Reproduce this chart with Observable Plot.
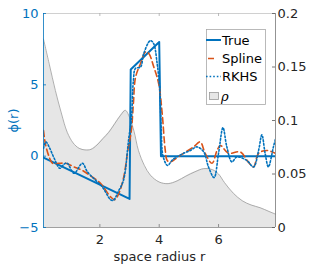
<!DOCTYPE html>
<html><head><meta charset="utf-8">
<script src="https://cdn.jsdelivr.net/npm/d3@7"></script>
<script src="https://cdn.jsdelivr.net/npm/@observablehq/plot@0.6"></script>
<style>
body{margin:0;background:#fff;}
#wrap{width:311px;height:264px;}
</style></head><body><div id="wrap"></div>
<script>
// ---- data ----
const trueR   = [0.1, 3.0, 3.04, 4.0, 4.06, 7.92];
const truePhi = [-0.1, -3.0, 6.08, 8.0, 0.0, 0.0];

const splineR   = [0.1, 0.17, 0.3, 0.4, 0.62, 0.85, 1.13, 1.41, 1.63, 2.02, 2.36, 2.5, 2.64, 2.8, 2.95, 3.06, 3.13, 3.2, 3.37, 3.54, 3.65, 3.81, 3.98, 4.1, 4.2, 4.27, 4.38, 4.6, 4.82, 5.16, 5.38, 5.55, 5.78, 5.95, 6.06, 6.34, 6.73, 7.0, 7.18, 7.35, 7.63, 7.92];
const splinePhi = [1.8, 0.8, -0.1, -0.5, -0.5, -0.5, -0.75, -1.0, -1.3, -1.9, -2.85, -3.05, -2.6, -1.5, 0.5, 1.8, 3.7, 5.5, 6.5, 7.3, 7.2, 6.3, 5.1, 3.0, 0.5, -0.3, -0.4, -0.1, 0.2, 0.65, 1.0, 0.2, -0.5, 0.4, 0.75, 0.2, 0.3, -0.4, -0.75, 0.2, 0.4, 0.2];

const rkhsR   = [0.1, 0.18, 0.3, 0.45, 0.65, 0.8, 0.9, 1.13, 1.41, 1.58, 1.86, 2.08, 2.36, 2.45, 2.64, 2.78, 2.86, 2.92, 2.98, 3.06, 3.13, 3.2, 3.37, 3.48, 3.7, 3.81, 3.93, 4.02, 4.07, 4.13, 4.28, 4.45, 4.6, 4.82, 5.05, 5.27, 5.5, 5.66, 5.85, 6.0, 6.15, 6.28, 6.45, 6.62, 6.95, 7.18, 7.35, 7.46, 7.57, 7.68, 7.85, 7.92];
const rkhsPhi = [0.55, 1.0, 0.6, -0.1, -0.85, -0.55, -0.5, -1.2, -0.5, -1.1, -1.7, -2.15, -3.05, -3.1, -2.4, -1.8, -1.0, 0.2, 1.35, 2.5, 5.3, 6.15, 6.25, 7.2, 8.1, 7.9, 6.5, 4.6, 1.8, 0.0, -0.65, -0.25, -0.05, 0.2, 0.4, 0.65, 0.3, -0.75, -1.5, 0.2, 2.0, 0.65, -0.4, -0.05, -0.3, -0.75, 0.4, 1.5, 0.2, -0.75, 0.65, 1.2];

const rhoR   = [0.1, 0.3, 0.5, 0.7, 0.9, 1.1, 1.3, 1.5, 1.7, 1.9, 2.1, 2.3, 2.5, 2.7, 2.86, 3.0, 3.15, 3.3, 3.5, 3.7, 4.0, 4.3, 4.6, 4.9, 5.2, 5.5, 5.8, 6.0, 6.2, 6.5, 6.8, 7.1, 7.4, 7.7, 7.92];
const rhoVal = [0.176, 0.152, 0.128, 0.107, 0.089, 0.079, 0.074, 0.0725, 0.073, 0.077, 0.083, 0.089, 0.097, 0.105, 0.1095, 0.103, 0.09, 0.072, 0.058, 0.049, 0.0425, 0.041, 0.0435, 0.048, 0.052, 0.055, 0.054, 0.05, 0.042, 0.032, 0.025, 0.021, 0.0185, 0.015, 0.0125];

const xTicks = [2, 4, 6];
const leftTicks = [-5, 0, 5, 10];
const rightTicks = [0, 0.05, 0.1, 0.15, 0.2];
const legendLabels = ["True", "Spline", "RKHS", "ρ"];

// ---- build ----
const BLUE = "#0072BD", ORANGE = "#D95319";
const W = 311, H = 264, mL = 43, mR = 36, mT = 13, mB = 37;
const pw = W - mL - mR, ph = H - mT - mB;
const xDom = [0.1, 7.92];
const toLeft = v => -5 + v * 75; // right axis (0..0.2) onto left axis (-5..10)

const zip = (a, b) => a.map((r, i) => ({r, v: b[i]}));
const trueData = zip(trueR, truePhi);
const splineData = zip(splineR, splinePhi);
const rkhsData = zip(rkhsR, rkhsPhi);
const rhoData = zip(rhoR, rhoVal);

const svg = Plot.plot({
  width: W, height: H,
  marginLeft: mL, marginRight: mR, marginTop: mT, marginBottom: mB,
  style: {fontFamily: "'DejaVu Sans', sans-serif", fontSize: "13px", background: "#fff"},
  x: {domain: xDom},
  y: {domain: [-5, 10]},
  marks: [
    Plot.areaY(rhoData, {x: "r", y1: -5, y2: d => toLeft(d.v), fill: "#e6e6e6", curve: "catmull-rom"}),
    Plot.lineY(rhoData, {x: "r", y: d => toLeft(d.v), stroke: "#9a9a9a", strokeWidth: 0.8, curve: "catmull-rom"}),
    Plot.line(trueData, {x: "r", y: "v", stroke: BLUE, strokeWidth: 2, clip: true}),
    Plot.line(splineData, {x: "r", y: "v", stroke: ORANGE, strokeWidth: 1.6, strokeDasharray: "6 3.5", curve: "catmull-rom", clip: true}),
    Plot.line(rkhsData, {x: "r", y: "v", stroke: BLUE, strokeWidth: 1.6, strokeDasharray: "1.6 2", curve: "catmull-rom", clip: true}),
    // frame
    Plot.ruleY([10], {stroke: "#c4c4c4", strokeWidth: 0.8}),
    Plot.ruleY([-5], {stroke: "#888", strokeWidth: 0.8}),
    Plot.ruleX([xDom[1]], {stroke: "#777", strokeWidth: 0.8}),
    Plot.ruleX([xDom[0]], {stroke: BLUE, strokeWidth: 0.8}),
    // inward ticks
    Plot.tickY(leftTicks, {y: d => d, stroke: BLUE, strokeWidth: 0.8, insetRight: pw - 3}),
    Plot.tickY(rightTicks, {y: d => toLeft(d), stroke: "#555", strokeWidth: 0.8, insetLeft: pw - 3}),
    Plot.tickX(xTicks, {x: d => d, stroke: "#777", strokeWidth: 0.8, insetTop: ph - 3}),
    Plot.tickX(xTicks, {x: d => d, stroke: "#aaa", strokeWidth: 0.8, insetBottom: ph - 3}),
    // axes labels
    Plot.axisY({anchor: "left", ticks: leftTicks, tickSize: 0, tickPadding: 5, color: BLUE, label: null, fontSize: 13}),
    Plot.axisY({anchor: "right", ticks: rightTicks.map(toLeft), tickSize: 0, tickPadding: 2,
      tickFormat: d => String(Math.round((d + 5) / 75 * 100) / 100), label: null, color: "#262626", fontSize: 13}),
    Plot.axisX({ticks: xTicks, tickSize: 0, tickPadding: 7, label: null, color: "#262626", fontSize: 13}),
    Plot.text(["ϕ(r)"], {frameAnchor: "left", dx: -30, rotate: -90, fill: BLUE, fontSize: 13, lineAnchor: "middle", textAnchor: "middle"}),
    Plot.text(["space radius r"], {frameAnchor: "bottom", dy: 29.5, fill: "#262626", fontSize: 13, lineAnchor: "middle", textAnchor: "middle"})
  ]
});

// legend
const g = d3.select(svg).append("g").attr("font-family", "'DejaVu Sans', sans-serif")
  .attr("font-size", 13).attr("text-anchor", "start");
g.append("rect").attr("x", 206.5).attr("y", 29.5).attr("width", 59).attr("height", 75)
  .attr("fill", "#fff").attr("stroke", "#a8a8a8").attr("stroke-width", 0.8);
const rowsY = [40, 58.5, 76.5, 96];
const styles = [
  {stroke: BLUE, w: 2, dash: null},
  {stroke: ORANGE, w: 1.6, dash: "0 2 6 8"},
  {stroke: BLUE, w: 1.6, dash: "1.6 2"}
];
styles.forEach((s, i) => {
  const l = g.append("line").attr("x1", 206).attr("x2", 221).attr("y1", rowsY[i]).attr("y2", rowsY[i])
    .attr("stroke", s.stroke).attr("stroke-width", s.w);
  if (s.dash) l.attr("stroke-dasharray", s.dash);
  g.append("text").attr("x", 222).attr("y", rowsY[i]).attr("dy", "0.35em").attr("text-anchor", "start")
    .attr("fill", "#000").text(legendLabels[i]);
});
g.append("rect").attr("x", 209.5).attr("y", 92.5).attr("width", 9).attr("height", 7)
  .attr("fill", "#e6e6e6").attr("stroke", "#999").attr("stroke-width", 0.8);
g.append("text").attr("x", 221).attr("y", 96).attr("dy", "0.35em").attr("text-anchor", "start")
  .attr("font-family", "'DejaVu Serif', serif")
  .attr("font-style", "italic").attr("fill", "#000").text(legendLabels[3]);

document.getElementById("wrap").appendChild(svg);
</script>
</body></html>
